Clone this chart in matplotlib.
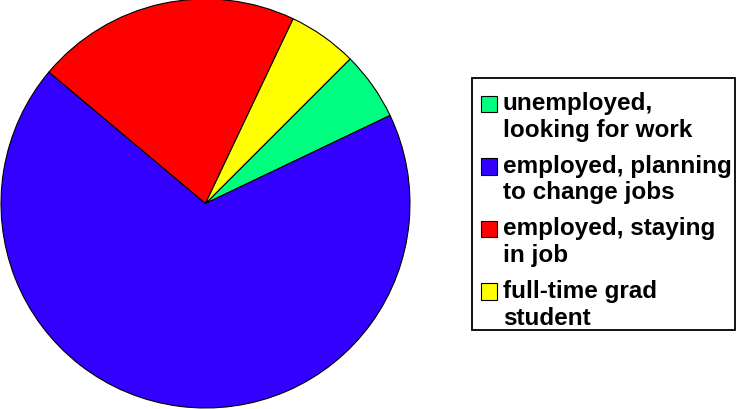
import matplotlib
matplotlib.use("Agg")
import matplotlib.pyplot as plt
from matplotlib.patches import Rectangle, Wedge
from matplotlib.legend_handler import HandlerPatch

# slice sizes in degrees
labels = ["unemployed,\nlooking for work",
          "employed, planning\nto change jobs",
          "employed, staying\nin job",
          "full-time grad\nstudent"]
values = [19.5, 245.5, 75.4, 19.6]
colors = ["#00ff80", "#3300ff", "#ff0000", "#ffff00"]

plt.rcParams['font.family'] = ['Liberation Sans', 'DejaVu Sans']
dpi = 100
W, H = 736, 410
fig = plt.figure(figsize=(W / dpi, H / dpi), dpi=dpi)

ax = fig.add_axes([0 / W, 0 / H, 411 / W, 411 / H])
wedges, _ = ax.pie(values, colors=colors, startangle=45, counterclock=False,
                   wedgeprops=dict(edgecolor='black', linewidth=0.8))
ax.set_xlim(-1.005, 1.005)
ax.set_ylim(-1.005, 1.005)

fs = 17.5
fs_px = fs * dpi / 72

# measure line step of two-line labels
r = fig.canvas.get_renderer()
t1 = fig.text(0, 0, "lp", fontsize=fs, fontweight='bold')
t2 = fig.text(0, 0, "lp\nlp", fontsize=fs, fontweight='bold')
h1 = t1.get_window_extent(r).height
h2 = t2.get_window_extent(r).height
t1.remove()
t2.remove()
step_pt = (h2 - h1) * 72 / dpi


def top_square(legend, orig_handle, xdescent, ydescent, width, height, fontsize):
    return Rectangle((-xdescent - 1, -ydescent + step_pt - 10), width, height)


leg = fig.legend(wedges, labels, loc='upper left',
                 bbox_to_anchor=(472 / W, 1 - 82 / H),
                 bbox_transform=fig.transFigure, borderaxespad=0,
                 prop=dict(size=fs, weight='bold'), frameon=False,
                 borderpad=0.42, handlelength=0.68, handleheight=0.66,
                 handletextpad=0.16, labelspacing=(62.6 - h2) / fs_px,
                 handler_map={Wedge: HandlerPatch(patch_func=top_square)})

# legend frame
fig.patches.append(Rectangle((472 / W, 1 - 331 / H), 263 / W, 252 / H,
                             transform=fig.transFigure, fill=False,
                             edgecolor='black', linewidth=1.3))

fig.savefig("out.png", dpi=dpi)
